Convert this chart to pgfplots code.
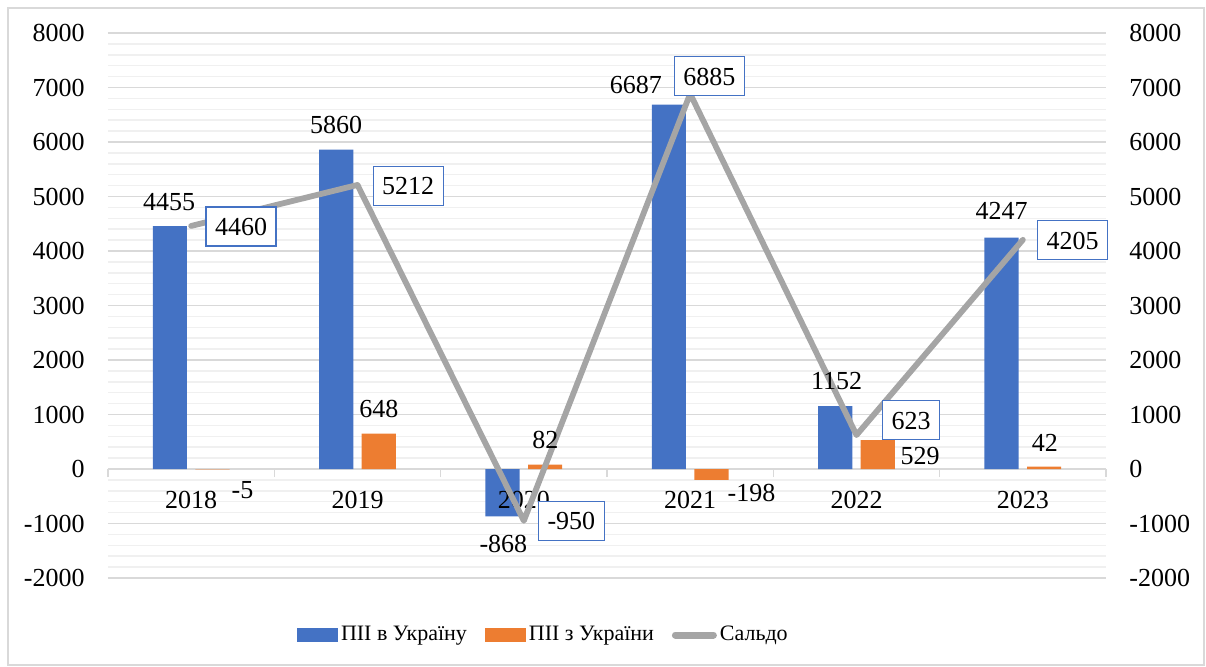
\documentclass[border=0pt]{standalone}
\usepackage{fontspec}
\setmainfont{Liberation Serif}
\usepackage{pgfplots}
\pgfplotsset{compat=1.18}
\definecolor{cblue}{HTML}{4472C4}
\definecolor{corange}{HTML}{ED7D31}
\definecolor{cgray}{HTML}{A5A5A5}
\definecolor{gridmaj}{HTML}{D9D9D9}
\definecolor{gridmin}{HTML}{F0F0F0}
\begin{document}
\fontsize{13}{15.6}\selectfont
\begin{tikzpicture}[font=\fontsize{13}{15.6}\selectfont,
  lbl/.style={text height=9pt, text depth=0pt, inner sep=0pt},
  box/.style={draw=cblue, line width=0.6pt, fill=white, text height=9pt, text depth=0pt, inner xsep=4.5pt, inner ysep=5.25pt}]
\begin{axis}[
  at={(0,0)}, anchor=south west,
  scale only axis, width=499pt, height=272.5pt,
  xmin=-0.5, xmax=5.5, ymin=-2000, ymax=8000,
  axis x line*=middle, axis y line*=left,
  y axis line style={draw=none},
  x axis line style={draw=gridmaj, line width=0.75pt, -},
  hide obscured x ticks=false, hide obscured y ticks=false,
  xtick={0,...,5},
  xticklabels={},
  minor xtick={-0.5,0.5,...,5.5},
  ytick={-2000,-1000,...,8000},
  yticklabels={-2000,-1000,0,1000,2000,3000,4000,5000,6000,7000,8000},
  minor ytick={-1800,-1600,...,7800},
  ymajorgrids, yminorgrids,
  major grid style={draw=gridmaj, line width=0.75pt},
  minor grid style={draw=gridmin, line width=0.75pt},
  tick align=outside,
  major tick length=0pt, minor tick length=4pt,
  xtick style={draw=gridmaj, line width=0.75pt},
  ytick style={draw=none},
  yticklabel style={anchor=east, inner sep=0pt, xshift=-11.5pt},
  clip=false,
  legend columns=3,
  legend style={at={(0.189,-0.1046)}, anchor=west, draw=none, fill=none, inner sep=0pt,
    font=\fontsize{11}{13.2}\selectfont,
    /tikz/every even column/.append style={column sep=7.5pt},
    nodes={inner sep=1.5pt, text height=8pt, text depth=2.2pt}},
]
\addplot[ybar, bar width=0.205, bar shift=-0.128, fill=cblue, draw=none,
  legend image code/.code={\fill[cblue] (0pt,-3.5pt) rectangle (20.5pt,3.5pt);}]
  coordinates {(0,4455) (1,5860) (2,-868) (3,6687) (4,1152) (5,4247)};
\addlegendentry{ПІІ в Україну}
\addplot[ybar, bar width=0.205, bar shift=0.128, fill=corange, draw=none,
  legend image code/.code={\fill[corange] (0pt,-3.5pt) rectangle (20.5pt,3.5pt);}]
  coordinates {(0,-5) (1,648) (2,82) (3,-198) (4,529) (5,42)};
\addlegendentry{ПІІ з України}
\addlegendimage{legend image code/.code={\draw[cgray, line width=3.5pt, line cap=round] (1.75pt,0pt) -- (20.75pt,0pt);}}
\addlegendentry{Сальдо}
\end{axis}
\begin{axis}[
  at={(0,0)}, anchor=south west,
  scale only axis, width=499pt, height=272.5pt,
  xmin=-0.5, xmax=5.5, ymin=-2000, ymax=8000,
  axis x line*=middle, axis y line*=right,
  x axis line style={draw=none},
  y axis line style={draw=none},
  hide obscured x ticks=false, hide obscured y ticks=false,
  xtick={0,...,5},
  xticklabels={2018,2019,2020,2021,2022,2023},
  ytick={-2000,-1000,...,8000},
  yticklabels={-2000,-1000,0,1000,2000,3000,4000,5000,6000,7000,8000},
  major tick length=0pt,
  tick style={draw=none},
  yticklabel style={anchor=west, inner sep=0pt, xshift=11.5pt},
  xticklabel style={anchor=north, inner sep=0pt, yshift=-11pt},
  clip=false,
]
\addplot[sharp plot, draw=cgray, line width=2.9pt, line cap=round, line join=round, mark=none]
  coordinates {(0,4460) (1,5212) (2,-950) (3,6885) (4,623) (5,4205)};
% labels of ПІІ в Україну
\node[lbl] at (axis cs:-0.133,4917) {4455};
\node[lbl] at (axis cs:0.872,6330) {5860};
\node[lbl] at (axis cs:1.877,-1376) {-868};
\node[lbl] at (axis cs:2.674,7064) {6687};
\node[lbl] at (axis cs:3.880,1615) {1152};
\node[lbl] at (axis cs:4.873,4752) {4247};
% labels of ПІІ з України
\node[lbl] at (axis cs:0.309,-376) {-5};
\node[lbl] at (axis cs:1.128,1119) {648};
\node[lbl] at (axis cs:2.129,550) {82};
\node[lbl] at (axis cs:3.369,-440) {-198};
\node[lbl] at (axis cs:4.383,239) {529};
\node[lbl] at (axis cs:5.132,486) {42};
% labels of Сальдо
\node[box] at (axis cs:0.300,4450) {4460};
\node[box] at (axis cs:1.305,5193) {5212};
\node[box] at (axis cs:2.286,-954) {-950};
\node[box] at (axis cs:3.116,7211) {6885};
\node[box] at (axis cs:4.328,899) {623};
\node[box] at (axis cs:5.300,4202) {4205};
\end{axis}
\draw[gridmaj, line width=0.75pt] (-50pt,-43.5pt) rectangle (548pt,285pt);
\pgfresetboundingbox
\path[use as bounding box] (-54pt,-44pt) rectangle (549pt,289pt);
\end{tikzpicture}
\end{document}
